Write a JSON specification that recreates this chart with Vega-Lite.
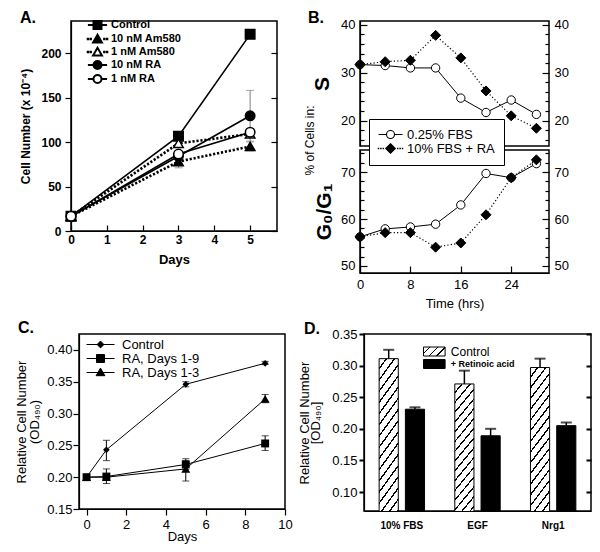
{
"$schema": "https://vega.github.io/schema/vega-lite/v6.json",
"background": "white",
"padding": {"left": 14, "top": 8, "right": 0, "bottom": 0},
"datasets": {
"a": [
{"day":0,"series":"Control","v":16.5},{"day":3,"series":"Control","v":106.5},{"day":5,"series":"Control","v":221},
{"day":0,"series":"10 nM Am580","v":16.5},{"day":3,"series":"10 nM Am580","v":78},{"day":5,"series":"10 nM Am580","v":95},
{"day":0,"series":"1 nM Am580","v":16.5},{"day":3,"series":"1 nM Am580","v":98.5},{"day":5,"series":"1 nM Am580","v":109},
{"day":0,"series":"10 nM RA","v":16.5},{"day":3,"series":"10 nM RA","v":84},{"day":5,"series":"10 nM RA","v":129.5},
{"day":0,"series":"1 nM RA","v":16.5},{"day":3,"series":"1 nM RA","v":86.5},{"day":5,"series":"1 nM RA","v":111}
],
"aerr": [
{"day":5,"series":"10 nM RA","lo":101,"hi":158},
{"day":3,"series":"10 nM Am580","lo":71,"hi":85},
{"day":5,"series":"10 nM Am580","lo":90,"hi":100}
],
"b": [
{"t":0,"series":"0.25% FBS","S":31.7,"G":56.2},{"t":4,"series":"0.25% FBS","S":31.5,"G":57.9},{"t":8,"series":"0.25% FBS","S":31.0,"G":58.3},{"t":12,"series":"0.25% FBS","S":31.0,"G":58.9},
{"t":16,"series":"0.25% FBS","S":24.7,"G":63.0},{"t":20,"series":"0.25% FBS","S":21.7,"G":69.7},{"t":24,"series":"0.25% FBS","S":24.3,"G":68.8},{"t":28,"series":"0.25% FBS","S":21.3,"G":71.8},
{"t":0,"series":"10% FBS + RA","S":31.7,"G":56.2},{"t":4,"series":"10% FBS + RA","S":32.3,"G":57.1},{"t":8,"series":"10% FBS + RA","S":32.6,"G":57.1},{"t":12,"series":"10% FBS + RA","S":37.8,"G":54.0},
{"t":16,"series":"10% FBS + RA","S":33.1,"G":54.9},{"t":20,"series":"10% FBS + RA","S":26.2,"G":60.9},{"t":24,"series":"10% FBS + RA","S":21.0,"G":68.8},{"t":28,"series":"10% FBS + RA","S":18.4,"G":72.6}
],
"c": [
{"day":0,"series":"Control","v":0.200},{"day":1,"series":"Control","v":0.243},{"day":5,"series":"Control","v":0.346},{"day":9,"series":"Control","v":0.379},
{"day":0,"series":"RA, Days 1-3","v":0.200},{"day":1,"series":"RA, Days 1-3","v":0.200},{"day":5,"series":"RA, Days 1-3","v":0.213},{"day":9,"series":"RA, Days 1-3","v":0.323},
{"day":0,"series":"RA, Days 1-9","v":0.200},{"day":1,"series":"RA, Days 1-9","v":0.201},{"day":5,"series":"RA, Days 1-9","v":0.220},{"day":9,"series":"RA, Days 1-9","v":0.253}
],
"cerr": [
{"day":1,"series":"Control","lo":0.226,"hi":0.258},{"day":5,"series":"Control","lo":0.342,"hi":0.350},{"day":9,"series":"Control","lo":0.377,"hi":0.382},
{"day":1,"series":"RA, Days 1-9","lo":0.190,"hi":0.213},{"day":5,"series":"RA, Days 1-9","lo":0.212,"hi":0.229},{"day":9,"series":"RA, Days 1-9","lo":0.242,"hi":0.265},
{"day":5,"series":"RA, Days 1-3","lo":0.194,"hi":0.226},{"day":9,"series":"RA, Days 1-3","lo":0.317,"hi":0.330}
],
"d": [
{"cond":"10% FBS","trt":"Control","v":0.311,"hi":0.325},{"cond":"10% FBS","trt":"+ Retinoic acid","v":0.231,"hi":0.234},
{"cond":"EGF","trt":"Control","v":0.271,"hi":0.292},{"cond":"EGF","trt":"+ Retinoic acid","v":0.189,"hi":0.200},
{"cond":"Nrg1","trt":"Control","v":0.297,"hi":0.311},{"cond":"Nrg1","trt":"+ Retinoic acid","v":0.205,"hi":0.210}
],
"spacer": [{"k": 0}]
},
"spacing": 8,
"bounds": "full",
"resolve": {"scale": {"shape":"independent","fill":"independent","stroke":"independent","size":"independent","color":"independent","strokeDash":"independent"}, "legend": {"shape":"independent","fill":"independent","stroke":"independent","size":"independent","color":"independent","strokeDash":"independent"}},
"vconcat": [
{
"hconcat": [
{
"title": {"text": "A.", "dx": -51, "dy": 15, "offset": -4, "baseline": "alphabetic"},
"width": 206, "height": 210,
"resolve": {"scale": {"y": "independent", "shape": "independent", "fill": "independent"}},
"layer": [
{"layer": [
{"data": {"name": "aerr"}, "mark": {"type": "rule", "color": "#808080", "strokeWidth": 1},
"encoding": {
"x": {"field": "day", "type": "quantitative", "scale": {"domain": [0, 5.75], "nice": false, "zero": false},
"axis": {"values": [0,1,2,3,4,5], "tickSize": -6, "labelPadding": 9, "labelFontWeight": "bold", "labelFontSize": 12, "title": "Days", "titleFontSize": 13, "titleFontWeight": "bold", "titlePadding": 8, "labelOverlap": false}},
"y": {"field": "lo", "type": "quantitative", "scale": {"domain": [0, 236], "nice": false, "zero": false},
"axis": {"values": [0,50,100,150,200], "tickSize": 6, "labelPadding": 4, "labelFontWeight": "bold", "labelFontSize": 12, "title": "Cell Number (x 10⁻⁴)", "titleFontSize": 12, "titleFontWeight": "bold", "titlePadding": 8, "labelOverlap": false}},
"y2": {"field": "hi"}}},
{"data": {"name": "aerr"}, "mark": {"type": "tick", "orient": "horizontal", "size": 8, "thickness": 1, "color": "#808080"},
"encoding": {"x": {"field": "day", "type": "quantitative"}, "y": {"field": "hi", "type": "quantitative"}}},
{"data": {"name": "aerr"}, "mark": {"type": "tick", "orient": "horizontal", "size": 8, "thickness": 1, "color": "#808080"},
"encoding": {"x": {"field": "day", "type": "quantitative"}, "y": {"field": "lo", "type": "quantitative"}}},
{"data": {"name": "a"}, "transform": [{"filter": {"field": "series", "oneOf": ["Control", "10 nM RA", "1 nM RA"]}}],
"mark": {"type": "line", "color": "black", "strokeWidth": 1.6},
"encoding": {"x": {"field": "day", "type": "quantitative"}, "y": {"field": "v", "type": "quantitative"}, "detail": {"field": "series"}}},
{"data": {"name": "a"}, "transform": [{"filter": {"field": "series", "oneOf": ["10 nM Am580", "1 nM Am580"]}}],
"mark": {"type": "line", "color": "black", "strokeWidth": 2.6, "strokeDash": [2.2, 1.8]},
"encoding": {"x": {"field": "day", "type": "quantitative"}, "y": {"field": "v", "type": "quantitative"}, "detail": {"field": "series"}}},
{"data": {"name": "a"}, "mark": {"type": "point", "filled": true, "size": 90, "stroke": "black", "strokeWidth": 1.5, "opacity": 1},
"encoding": {"x": {"field": "day", "type": "quantitative"}, "y": {"field": "v", "type": "quantitative"},
"shape": {"field": "series", "type": "nominal", "scale": {"domain": ["Control","10 nM Am580","1 nM Am580","10 nM RA","1 nM RA"], "range": ["square","triangle-up","triangle-up","circle","circle"]}, "legend": null},
"fill": {"field": "series", "type": "nominal", "scale": {"domain": ["Control","10 nM Am580","1 nM Am580","10 nM RA","1 nM RA"], "range": ["black","black","white","black","white"]}, "legend": null}}}
]},
{"data": {"name": "a"}, "mark": {"type": "point", "opacity": 0},
"encoding": {"x": {"field": "day", "type": "quantitative"}, "y": {"field": "v", "type": "quantitative", "scale": {"domain": [0, 236], "nice": false, "zero": false}, "axis": {"orient": "right", "values": [0,50,100,150,200], "tickSize": -6, "labels": false, "title": null, "domain": false}}}},
{"data": {"name": "a"}, "transform": [{"filter": "false"}], "mark": {"type": "point", "filled": true, "size": 64, "stroke": "black", "strokeWidth": 2},
"encoding": {"x": {"field": "day", "type": "quantitative"}, "y": {"field": "v", "type": "quantitative", "scale": {"domain": [0, 236], "nice": false, "zero": false}, "axis": null},
"shape": {"field": "series", "type": "nominal", "scale": {"domain": ["Control","10 nM Am580","1 nM Am580","10 nM RA","1 nM RA"], "range": ["M-2.4,0H2.4M-1,-1H1V1H-1Z", "M-2.45,-0.05h0.1v0.1h-0.1ZM-1.75,-0.05h0.1v0.1h-0.1ZM1.65,-0.05h0.1v0.1h-0.1ZM2.35,-0.05h0.1v0.1h-0.1ZM0,-1.05L1.1,0.85H-1.1Z", "M-2.45,-0.05h0.1v0.1h-0.1ZM-1.75,-0.05h0.1v0.1h-0.1ZM1.65,-0.05h0.1v0.1h-0.1ZM2.35,-0.05h0.1v0.1h-0.1ZM0,-1.05L1.1,0.85H-1.1Z", "M-2.4,0H2.4M1,0C1,0.55,0.55,1,0,1C-0.55,1,-1,0.55,-1,0C-1,-0.55,-0.55,-1,0,-1C0.55,-1,1,-0.55,1,0Z", "M-2.4,0H-1M1,0H2.4M1,0C1,0.55,0.55,1,0,1C-0.55,1,-1,0.55,-1,0C-1,-0.55,-0.55,-1,0,-1C0.55,-1,1,-0.55,1,0Z"]},
"legend": {"title": null, "orient": "none", "legendX": 15, "legendY": -1.5, "padding": 0, "symbolOffset": 6, "labelOffset": 8, "rowPadding": -8, "symbolSize": 64, "symbolStrokeColor": "black", "symbolStrokeWidth": 2, "symbolOpacity": 1,
"labelFont": "Liberation Sans", "labelFontSize": 11, "labelFontWeight": "bold", "labelColor": "black",
"encoding": {"symbols": {"stroke": {"value": "black"}, "strokeWidth": {"value": 2}, "opacity": {"value": 1}}}}},
"fill": {"field": "series", "type": "nominal", "scale": {"domain": ["Control","10 nM Am580","1 nM Am580","10 nM RA","1 nM RA"], "range": ["black","black","white","black","white"]},
"legend": {"title": null, "orient": "none", "legendX": 15, "legendY": -1.5, "padding": 0, "symbolOffset": 6, "labelOffset": 8, "rowPadding": -8, "symbolSize": 64, "symbolStrokeColor": "black", "symbolStrokeWidth": 2, "symbolOpacity": 1,
"labelFont": "Liberation Sans", "labelFontSize": 11, "labelFontWeight": "bold", "labelColor": "black",
"encoding": {"symbols": {"stroke": {"value": "black"}, "strokeWidth": {"value": 2}, "opacity": {"value": 1}}}}}}}
]
},
{
"vconcat": [
{
"title": {"text": "B.", "dx": -52, "dy": 16, "offset": -4, "baseline": "alphabetic"},
"width": 189, "height": 125,
"resolve": {"scale": {"y": "independent"}},
"layer": [
{"layer": [
{"data": {"name": "b"}, "transform": [{"filter": {"field": "series", "equal": "0.25% FBS"}}], "mark": {"type": "line", "color": "black", "strokeWidth": 1},
"encoding": {"x": {"field": "t", "type": "quantitative", "scale": {"domain": [0, 30], "nice": false, "zero": false}, "axis": null},
"y": {"field": "S", "type": "quantitative", "scale": {"domain": [14.7, 40.8], "nice": false, "zero": false}, "axis": null}}},
{"data": {"name": "b"}, "transform": [{"filter": {"field": "series", "equal": "10% FBS + RA"}}], "mark": {"type": "line", "color": "black", "strokeWidth": 1.2, "strokeDash": [1.2, 2.2]},
"encoding": {"x": {"field": "t", "type": "quantitative"}, "y": {"field": "S", "type": "quantitative", "axis": null}}},
{"data": {"name": "b"}, "mark": {"type": "point", "filled": true, "stroke": "black", "strokeWidth": 1, "opacity": 1},
"encoding": {"x": {"field": "t", "type": "quantitative"}, "y": {"field": "S", "type": "quantitative", "axis": null},
"shape": {"field": "series", "type": "nominal", "scale": {"domain": ["0.25% FBS", "10% FBS + RA"], "range": ["circle", "diamond"]}, "legend": null},
"fill": {"field": "series", "type": "nominal", "scale": {"domain": ["0.25% FBS", "10% FBS + RA"], "range": ["white", "black"]}, "legend": null},
"size": {"field": "series", "type": "nominal", "scale": {"domain": ["0.25% FBS", "10% FBS + RA"], "range": [70, 100]}, "legend": null}}}
]},
{"data": {"name": "b"}, "mark": {"type": "point", "opacity": 0},
"encoding": {"x": {"field": "t", "type": "quantitative"}, "y": {"field": "S", "type": "quantitative", "scale": {"domain": [14.7, 40.8], "nice": false, "zero": false},
"axis": {"orient": "left", "values": [16,18,20,22,24,26,28,30,32,34,36,38,40], "labelExpr": "datum.value % 10 === 0 ? datum.label : ''", "tickSize": {"condition": {"test": "datum.value % 10 === 0", "value": -7}, "value": -4}, "labelFontSize": {"condition": {"test": "datum.value % 10 === 0", "value": 13}, "value": 1}, "labelPadding": 12, "labelOverlap": false, "title": "S", "titleFontSize": 21, "titleFontWeight": "bold", "titlePadding": 8}}}},
{"data": {"name": "b"}, "mark": {"type": "point", "opacity": 0},
"encoding": {"x": {"field": "t", "type": "quantitative"}, "y": {"field": "S", "type": "quantitative", "scale": {"domain": [14.7, 40.8], "nice": false, "zero": false},
"axis": {"orient": "right", "values": [16,18,20,22,24,26,28,30,32,34,36,38,40], "labelExpr": "datum.value % 10 === 0 ? datum.label : ''", "tickSize": {"condition": {"test": "datum.value % 10 === 0", "value": -7}, "value": -4}, "labelFontSize": {"condition": {"test": "datum.value % 10 === 0", "value": 13}, "value": 1}, "labelPadding": 12, "labelOverlap": false, "title": null, "domain": false}}}}
]
},
{
"width": 189, "height": 123,
"resolve": {"scale": {"y": "independent", "shape": "independent", "fill": "independent"}},
"layer": [
{"layer": [
{"data": {"name": "b"}, "transform": [{"filter": {"field": "series", "equal": "0.25% FBS"}}], "mark": {"type": "line", "color": "black", "strokeWidth": 1},
"encoding": {"x": {"field": "t", "type": "quantitative", "scale": {"domain": [0, 30], "nice": false, "zero": false},
"axis": {"values": [0,4,8,12,16,20,24,28], "tickSize": -7, "labelPadding": 12, "labelFontSize": 13, "labelOverlap": false, "title": "Time (hrs)", "titleFontSize": 13, "titleFontWeight": "normal", "titlePadding": 6}},
"y": {"field": "G", "type": "quantitative", "scale": {"domain": [48.5, 74.7], "nice": false, "zero": false}, "axis": null}}},
{"data": {"name": "b"}, "transform": [{"filter": {"field": "series", "equal": "10% FBS + RA"}}], "mark": {"type": "line", "color": "black", "strokeWidth": 1.2, "strokeDash": [1.2, 2.2]},
"encoding": {"x": {"field": "t", "type": "quantitative"}, "y": {"field": "G", "type": "quantitative", "axis": null}}},
{"data": {"name": "b"}, "mark": {"type": "point", "filled": true, "stroke": "black", "strokeWidth": 1, "opacity": 1},
"encoding": {"x": {"field": "t", "type": "quantitative"}, "y": {"field": "G", "type": "quantitative", "axis": null},
"shape": {"field": "series", "type": "nominal", "scale": {"domain": ["0.25% FBS", "10% FBS + RA"], "range": ["circle", "diamond"]}, "legend": null},
"fill": {"field": "series", "type": "nominal", "scale": {"domain": ["0.25% FBS", "10% FBS + RA"], "range": ["white", "black"]}, "legend": null},
"size": {"field": "series", "type": "nominal", "scale": {"domain": ["0.25% FBS", "10% FBS + RA"], "range": [70, 100]}, "legend": null}}}
]},
{"data": {"name": "b"}, "mark": {"type": "point", "opacity": 0},
"encoding": {"x": {"field": "t", "type": "quantitative"}, "y": {"field": "G", "type": "quantitative", "scale": {"domain": [48.5, 74.7], "nice": false, "zero": false},
"axis": {"orient": "left", "values": [50,52,54,56,58,60,62,64,66,68,70,72,74], "labelExpr": "datum.value % 10 === 0 ? datum.label : ''", "tickSize": {"condition": {"test": "datum.value % 10 === 0", "value": -7}, "value": -4}, "labelFontSize": {"condition": {"test": "datum.value % 10 === 0", "value": 13}, "value": 1}, "labelPadding": 12, "labelOverlap": false, "title": "G₀/G₁", "titleFontSize": 21, "titleFontWeight": "bold", "titlePadding": 6}}}},
{"data": {"name": "b"}, "mark": {"type": "point", "opacity": 0},
"encoding": {"x": {"field": "t", "type": "quantitative"}, "y": {"field": "G", "type": "quantitative", "scale": {"domain": [48.5, 74.7], "nice": false, "zero": false},
"axis": {"orient": "right", "values": [50,52,54,56,58,60,62,64,66,68,70,72,74], "labelExpr": "datum.value % 10 === 0 ? datum.label : ''", "tickSize": {"condition": {"test": "datum.value % 10 === 0", "value": -7}, "value": -4}, "labelFontSize": {"condition": {"test": "datum.value % 10 === 0", "value": 13}, "value": 1}, "labelPadding": 12, "labelOverlap": false, "title": null, "domain": false}}}},
{"data": {"name": "b"}, "mark": {"type": "point", "opacity": 0},
"encoding": {"x": {"field": "t", "type": "quantitative"}, "y": {"field": "G", "type": "quantitative", "scale": {"domain": [48.5, 74.7], "nice": false, "zero": false},
"axis": {"orient": "left", "domain": false, "ticks": false, "labels": false, "title": "% of Cells in:", "titleFontSize": 12, "titleFontWeight": "normal", "titleX": -44, "titleY": -10, "titleAngle": -90, "titleAlign": "center", "titleBaseline": "bottom"}}}},
{"data": {"name": "b"}, "transform": [{"filter": "false"}], "mark": {"type": "point", "filled": true, "size": 64, "stroke": "black", "strokeWidth": 1.1},
"encoding": {"x": {"field": "t", "type": "quantitative"}, "y": {"field": "G", "type": "quantitative", "scale": {"domain": [48.5, 74.7], "nice": false, "zero": false}, "axis": null},
"shape": {"field": "series", "type": "nominal", "scale": {"domain": ["0.25% FBS", "10% FBS + RA"], "range": ["M-3,0H-1M1,0H3M1,0C1,0.55,0.55,1,0,1C-0.55,1,-1,0.55,-1,0C-1,-0.55,-0.55,-1,0,-1C0.55,-1,1,-0.55,1,0Z", "M-3.05,-0.05h0.1v0.1h-0.1ZM-2.45,-0.05h0.1v0.1h-0.1ZM-1.85,-0.05h0.1v0.1h-0.1ZM1.75,-0.05h0.1v0.1h-0.1ZM2.35,-0.05h0.1v0.1h-0.1ZM2.95,-0.05h0.1v0.1h-0.1ZM0,-1.2L1.2,0L0,1.2L-1.2,0Z"]},
"legend": {"title": null, "orient": "none", "legendX": 9, "legendY": -31, "padding": 9, "strokeColor": "black", "fillColor": "white", "zindex": 2,
"symbolOffset": 6, "labelOffset": 10, "rowPadding": -1, "symbolSize": 64, "symbolStrokeColor": "black", "symbolStrokeWidth": 1.1, "symbolOpacity": 1, "labelFont": "Liberation Sans", "labelFontSize": 13, "labelColor": "black",
"encoding": {"symbols": {"stroke": {"value": "black"}, "strokeWidth": {"value": 1.1}, "opacity": {"value": 1}}}}},
"fill": {"field": "series", "type": "nominal", "scale": {"domain": ["0.25% FBS", "10% FBS + RA"], "range": ["white", "black"]},
"legend": {"title": null, "orient": "none", "legendX": 9, "legendY": -31, "padding": 9, "strokeColor": "black", "fillColor": "white", "zindex": 2,
"symbolOffset": 6, "labelOffset": 10, "rowPadding": -1, "symbolSize": 64, "symbolStrokeColor": "black", "symbolStrokeWidth": 1.1, "symbolOpacity": 1, "labelFont": "Liberation Sans", "labelFontSize": 13, "labelColor": "black",
"encoding": {"symbols": {"stroke": {"value": "black"}, "strokeWidth": {"value": 1.1}, "opacity": {"value": 1}}}}}}}
]
}
],
"spacing": 4,
"bounds": "flush",
"resolve": {"scale": {"shape":"independent","fill":"independent","stroke":"independent","size":"independent","color":"independent","strokeDash":"independent"}, "legend": {"shape":"independent","fill":"independent","stroke":"independent","size":"independent","color":"independent","strokeDash":"independent"}}
}
],
"spacing": 83,
"bounds": "flush",
"resolve": {"scale": {"shape":"independent","fill":"independent","stroke":"independent","size":"independent","color":"independent","strokeDash":"independent"}, "legend": {"shape":"independent","fill":"independent","stroke":"independent","size":"independent","color":"independent","strokeDash":"independent"}}
},
{
"hconcat": [
{"data": {"name": "spacer"}, "width": 8, "height": 5, "view": {"stroke": null}, "mark": {"type": "point", "opacity": 0}, "encoding": {}},
{
"hconcat": [
{
"title": {"text": "C.", "dx": -61, "dy": 14, "offset": -1, "baseline": "alphabetic"},
"width": 206, "height": 175,
"resolve": {"scale": {"shape": "independent", "fill": "independent", "size": "independent", "y": "independent"}},
"layer": [
{"layer": [
{"data": {"name": "cerr"}, "mark": {"type": "rule", "color": "black", "strokeWidth": 1},
"encoding": {
"x": {"field": "day", "type": "quantitative", "scale": {"domain": [-0.38, 10], "nice": false, "zero": false},
"axis": {"values": [0,2,4,6,8,10], "tickSize": 6, "labelPadding": 3, "labelFontSize": 13, "labelOverlap": false, "title": "Days", "titleFontSize": 13, "titleFontWeight": "normal", "titlePadding": -1}},
"y": {"field": "lo", "type": "quantitative", "scale": {"domain": [0.15, 0.425], "nice": false, "zero": false}, "axis": null},
"y2": {"field": "hi"}}},
{"data": {"name": "cerr"}, "mark": {"type": "tick", "orient": "horizontal", "size": 7, "thickness": 1, "color": "black"},
"encoding": {"x": {"field": "day", "type": "quantitative"}, "y": {"field": "hi", "type": "quantitative", "axis": null}}},
{"data": {"name": "cerr"}, "mark": {"type": "tick", "orient": "horizontal", "size": 7, "thickness": 1, "color": "black"},
"encoding": {"x": {"field": "day", "type": "quantitative"}, "y": {"field": "lo", "type": "quantitative", "axis": null}}},
{"data": {"name": "c"}, "mark": {"type": "line", "color": "black", "strokeWidth": 1},
"encoding": {"x": {"field": "day", "type": "quantitative"}, "y": {"field": "v", "type": "quantitative", "axis": null}, "detail": {"field": "series"}}},
{"data": {"name": "c"}, "mark": {"type": "point", "filled": true, "fill": "black", "opacity": 1},
"encoding": {"x": {"field": "day", "type": "quantitative"}, "y": {"field": "v", "type": "quantitative", "axis": null},
"size": {"field": "series", "type": "nominal", "scale": {"domain": ["Control","RA, Days 1-9","RA, Days 1-3"], "range": [45, 80, 80]}, "legend": null},
"shape": {"field": "series", "type": "nominal", "scale": {"domain": ["Control","RA, Days 1-9","RA, Days 1-3"], "range": ["diamond","square","triangle-up"]}, "legend": null}}}
]},
{"data": {"name": "c"}, "mark": {"type": "point", "opacity": 0},
"encoding": {"x": {"field": "day", "type": "quantitative"}, "y": {"field": "v", "type": "quantitative", "scale": {"domain": [0.15, 0.425], "nice": false, "zero": false},
"axis": {"orient": "left", "values": [0.15,0.2,0.25,0.3,0.35,0.4], "format": ".2f", "tickSize": 6, "labelPadding": 1, "labelFontSize": 13, "labelOverlap": false, "title": ["Relative Cell Number", "(OD₄₉₀)"], "titleFontSize": 13, "titleFontWeight": "normal", "titlePadding": 5, "titleLineHeight": 13}}}},
{"data": {"name": "c"}, "transform": [{"filter": "false"}], "mark": {"type": "point", "filled": true, "fill": "black", "size": 64, "stroke": "black", "strokeWidth": 1},
"encoding": {"x": {"field": "day", "type": "quantitative"}, "y": {"field": "v", "type": "quantitative", "scale": {"domain": [0.15, 0.425], "nice": false, "zero": false}, "axis": null},
"shape": {"field": "series", "type": "nominal", "scale": {"domain": ["Control","RA, Days 1-9","RA, Days 1-3"], "range": ["M-3.5,0H3.5M0,-0.85L0.85,0L0,0.85L-0.85,0Z", "M-3.5,0H3.5M-1,-1H1V1H-1Z", "M-3.5,0H3.5M0,-1.1L1.1,0.8H-1.1Z"]},
"legend": {"title": null, "orient": "none", "legendX": 3, "legendY": 4, "padding": 0, "symbolOffset": 12, "labelOffset": 15, "rowPadding": -2.5, "symbolSize": 64, "symbolStrokeColor": "black", "symbolStrokeWidth": 1, "symbolFillColor": "black", "symbolOpacity": 1,
"labelFont": "Liberation Sans", "labelFontSize": 13, "labelColor": "black",
"encoding": {"symbols": {"fill": {"value": "black"}, "stroke": {"value": "black"}, "strokeWidth": {"value": 1}, "opacity": {"value": 1}}}}}}}
]
},
{
"title": {"text": "D.", "dx": -60, "dy": 16, "offset": -6, "baseline": "alphabetic"},
"width": 227, "height": 177,
"resolve": {"scale": {"y": "independent"}},
"layer": [
{"layer": [
{"data": {"name": "d"}, "mark": {"type": "bar", "clip": true, "strokeWidth": 1},
"encoding": {
"x": {"field": "cond", "type": "nominal", "sort": null, "scale": {"paddingInner": 0.4, "paddingOuter": 0.2},
"axis": {"title": null, "ticks": false, "labelFontSize": 10, "labelFontWeight": "bold", "labelPadding": 9, "labelAngle": 0}},
"xOffset": {"field": "trt", "type": "nominal", "sort": null, "scale": {"paddingInner": 0.27, "paddingOuter": 0}},
"y": {"field": "v", "type": "quantitative", "scale": {"domain": [0.07, 0.35], "nice": false, "zero": false}, "axis": null},
"fill": {"condition": {"test": "datum.trt === 'Control'", "value": {"gradient": "linear", "x1": 0, "y1": 0, "x2": 0.151, "y2": 1.12, "stops": [
{"offset":0,"color":"white"},
{"offset":0.04,"color":"white"},{"offset":0.04,"color":"black"},{"offset":0.05,"color":"black"},{"offset":0.05,"color":"white"},
{"offset":0.09,"color":"white"},{"offset":0.09,"color":"black"},{"offset":0.1,"color":"black"},{"offset":0.1,"color":"white"},
{"offset":0.14,"color":"white"},{"offset":0.14,"color":"black"},{"offset":0.15,"color":"black"},{"offset":0.15,"color":"white"},
{"offset":0.19,"color":"white"},{"offset":0.19,"color":"black"},{"offset":0.2,"color":"black"},{"offset":0.2,"color":"white"},
{"offset":0.24,"color":"white"},{"offset":0.24,"color":"black"},{"offset":0.25,"color":"black"},{"offset":0.25,"color":"white"},
{"offset":0.29,"color":"white"},{"offset":0.29,"color":"black"},{"offset":0.3,"color":"black"},{"offset":0.3,"color":"white"},
{"offset":0.34,"color":"white"},{"offset":0.34,"color":"black"},{"offset":0.35,"color":"black"},{"offset":0.35,"color":"white"},
{"offset":0.39,"color":"white"},{"offset":0.39,"color":"black"},{"offset":0.4,"color":"black"},{"offset":0.4,"color":"white"},
{"offset":0.44,"color":"white"},{"offset":0.44,"color":"black"},{"offset":0.45,"color":"black"},{"offset":0.45,"color":"white"},
{"offset":0.49,"color":"white"},{"offset":0.49,"color":"black"},{"offset":0.5,"color":"black"},{"offset":0.5,"color":"white"},
{"offset":0.54,"color":"white"},{"offset":0.54,"color":"black"},{"offset":0.55,"color":"black"},{"offset":0.55,"color":"white"},
{"offset":0.59,"color":"white"},{"offset":0.59,"color":"black"},{"offset":0.6,"color":"black"},{"offset":0.6,"color":"white"},
{"offset":0.64,"color":"white"},{"offset":0.64,"color":"black"},{"offset":0.65,"color":"black"},{"offset":0.65,"color":"white"},
{"offset":0.69,"color":"white"},{"offset":0.69,"color":"black"},{"offset":0.7,"color":"black"},{"offset":0.7,"color":"white"},
{"offset":0.74,"color":"white"},{"offset":0.74,"color":"black"},{"offset":0.75,"color":"black"},{"offset":0.75,"color":"white"},
{"offset":0.79,"color":"white"},{"offset":0.79,"color":"black"},{"offset":0.8,"color":"black"},{"offset":0.8,"color":"white"},
{"offset":0.84,"color":"white"},{"offset":0.84,"color":"black"},{"offset":0.85,"color":"black"},{"offset":0.85,"color":"white"},
{"offset":0.89,"color":"white"},{"offset":0.89,"color":"black"},{"offset":0.9,"color":"black"},{"offset":0.9,"color":"white"},
{"offset":0.94,"color":"white"},{"offset":0.94,"color":"black"},{"offset":0.95,"color":"black"},{"offset":0.95,"color":"white"},
{"offset":1,"color":"white"}]}}, "value": "black"},
"stroke": {"field": "trt", "type": "nominal", "sort": null, "scale": {"domain": ["Control", "+ Retinoic acid"], "range": ["black", "black"]},
"legend": {"title": null, "orient": "none", "legendX": 59, "legendY": 12.5, "padding": 0, "symbolOffset": 6.3, "labelOffset": 11.5, "rowPadding": -1.5, "symbolSize": 81,
"labelFont": "Liberation Sans", "labelFontSize": 12, "labelColor": "black",
"encoding": {
"symbols": {"shape": {"value": "M-2.4,-1H2.4V1H-2.4Z"},
"fill": {"condition": {"test": "datum.value === 'Control'", "value": {"gradient": "linear", "x1": 0, "y1": 0, "x2": 1.2, "y2": 0.5, "stops": [
{"offset":0,"color":"white"},{"offset":0.2,"color":"white"},{"offset":0.2,"color":"black"},{"offset":0.245,"color":"black"},{"offset":0.245,"color":"white"},
{"offset":0.45,"color":"white"},{"offset":0.45,"color":"black"},{"offset":0.495,"color":"black"},{"offset":0.495,"color":"white"},
{"offset":0.7,"color":"white"},{"offset":0.7,"color":"black"},{"offset":0.745,"color":"black"},{"offset":0.745,"color":"white"},
{"offset":1,"color":"white"}]}}, "value": "black"},
"stroke": {"value": "black"}, "strokeWidth": {"value": 1}, "size": {"value": 81}, "opacity": {"value": 1}},
"labels": {"fontWeight": {"condition": {"test": "datum.value === 'Control'", "value": "normal"}, "value": "bold"},
"fontSize": {"condition": {"test": "datum.value === 'Control'", "value": 12}, "value": 9}}}}}}},
{"data": {"name": "d"}, "mark": {"type": "rule", "color": "black", "strokeWidth": 1.5},
"encoding": {"x": {"field": "cond", "type": "nominal", "sort": null}, "xOffset": {"field": "trt", "type": "nominal", "sort": null}, "y": {"field": "v", "type": "quantitative", "axis": null}, "y2": {"field": "hi"}}},
{"data": {"name": "d"}, "mark": {"type": "tick", "orient": "horizontal", "size": 11, "thickness": 2, "color": "black"},
"encoding": {"x": {"field": "cond", "type": "nominal", "sort": null}, "xOffset": {"field": "trt", "type": "nominal", "sort": null}, "y": {"field": "hi", "type": "quantitative", "axis": null}}}
]},
{"data": {"name": "d"}, "mark": {"type": "point", "opacity": 0},
"encoding": {"x": {"field": "cond", "type": "nominal", "sort": null}, "y": {"field": "v", "type": "quantitative", "scale": {"domain": [0.07, 0.35], "nice": false, "zero": false},
"axis": {"orient": "left", "values": [0.1,0.15,0.2,0.25,0.3,0.35], "format": ".2f", "tickSize": 5, "tickWidth": 2, "labelPadding": 2, "labelFontSize": 13, "labelOverlap": false, "title": ["Relative Cell Number", "[OD₄₉₀]"], "titleFontSize": 13, "titleFontWeight": "normal", "titlePadding": 9, "titleLineHeight": 11}}}},
{"data": {"name": "d"}, "mark": {"type": "point", "opacity": 0},
"encoding": {"x": {"field": "cond", "type": "nominal", "sort": null}, "y": {"field": "v", "type": "quantitative", "scale": {"domain": [0.07, 0.35], "nice": false, "zero": false},
"axis": {"orient": "right", "values": [0.1,0.15,0.2,0.25,0.3,0.35], "tickSize": -5, "tickWidth": 2, "labels": false, "title": null, "domain": false}}}}
]
}
],
"spacing": 79,
"bounds": "flush",
"resolve": {"scale": {"shape":"independent","fill":"independent","stroke":"independent","size":"independent","color":"independent","strokeDash":"independent"}, "legend": {"shape":"independent","fill":"independent","stroke":"independent","size":"independent","color":"independent","strokeDash":"independent"}}
}
],
"spacing": 0,
"bounds": "flush",
"resolve": {"scale": {"shape":"independent","fill":"independent","stroke":"independent","size":"independent","color":"independent","strokeDash":"independent"}, "legend": {"shape":"independent","fill":"independent","stroke":"independent","size":"independent","color":"independent","strokeDash":"independent"}}
}
],
"config": {
"font": "Liberation Sans",
"view": {"stroke": "black", "strokeWidth": 1.5},
"axis": {"grid": false, "domainColor": "black", "tickColor": "black", "labelColor": "black", "titleColor": "black", "labelFont": "Liberation Sans", "titleFont": "Liberation Sans", "labelFlush": false, "labelOverlap": false, "tickWidth": 1.2, "domainWidth": 1.2},
"legend": {"labelFont": "Liberation Sans"},
"title": {"font": "Liberation Sans", "fontWeight": "bold", "fontSize": 16, "anchor": "start", "frame": "group", "color": "black"}
}
}
